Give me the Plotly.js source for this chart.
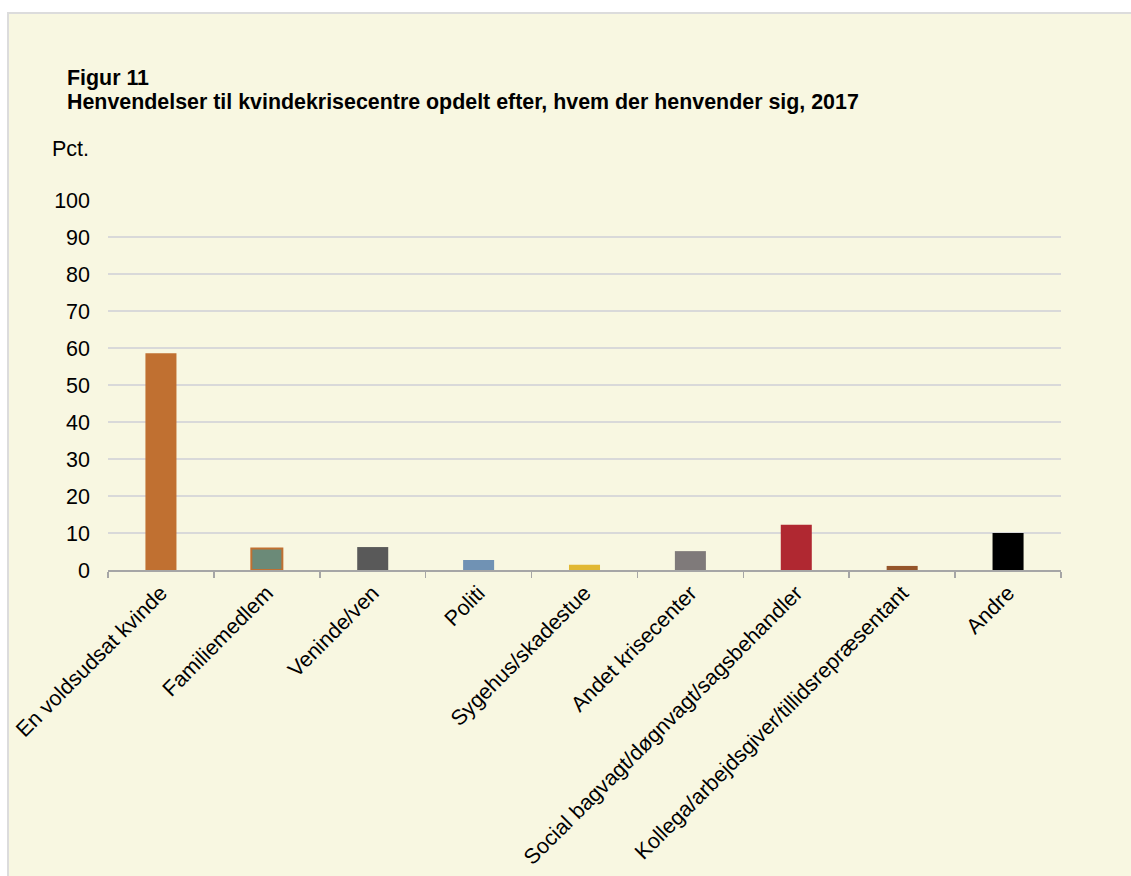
<!DOCTYPE html>
<html>
<head>
<meta charset="utf-8">
<script src="https://cdn.plot.ly/plotly-3.0.1.min.js"></script>
<style>
  html, body { margin:0; padding:0; background:#ffffff; }
  #panel { position:absolute; left:7px; top:12px; width:1124px; height:864px; background:#f8f7e1; border-top:2px solid #dcdcdc; border-left:2px solid #dcdcdc; }
  #chart { position:absolute; left:0; top:0; width:1131px; height:876px; }
</style>
</head>
<body>
<div id="panel"></div>
<div id="chart"></div>
<script>
const categories = [
  "En voldsudsat kvinde",
  "Familiemedlem",
  "Veninde/ven",
  "Politi",
  "Sygehus/skadestue",
  "Andet krisecenter",
  "Social bagvagt/døgnvagt/sagsbehandler",
  "Kollega/arbejdsgiver/tillidsrepræsentant",
  "Andre"
];
const values = [58.6, 5.8, 6.2, 2.7, 1.4, 5.1, 12.2, 1.1, 10.0];
const barColors = ["#c07031", "#6b8a78", "#595959", "#7092b4", "#e1b833", "#7f7a7a", "#b02831", "#95552a", "#000000"];
const outlineColors = ["#c07031", "#c07031", "#595959", "#7092b4", "#e1b833", "#7f7a7a", "#b02831", "#95552a", "#000000"];
const outlineWidths = [0, 2, 0, 0, 0, 0, 0, 0, 0];
const yTicks = [0, 10, 20, 30, 40, 50, 60, 70, 80, 90, 100];
const titleLine1 = "Figur 11";
const titleLine2 = "Henvendelser til kvindekrisecentre opdelt efter, hvem der henvender sig, 2017";
const yLabel = "Pct.";

const FONT = "Liberation Sans, Arial, Helvetica, sans-serif";

const trace = {
  type: "bar",
  x: categories,
  y: values,
  marker: { color: barColors, line: { color: outlineColors, width: outlineWidths } },
  hoverinfo: "x+y"
};

const layout = {
  width: 1131, height: 876,
  paper_bgcolor: "rgba(0,0,0,0)",
  plot_bgcolor: "rgba(0,0,0,0)",
  margin: { l: 108, r: 70, t: 200, b: 306, pad: 0 },
  bargap: 0.707,
  showlegend: false,
  font: { family: FONT, size: 21, color: "#000" },
  xaxis: {
    type: "category",
    tickangle: -45,
    tickson: "boundaries",
    ticks: "outside",
    ticklen: 6,
    tickwidth: 1.5,
    tickcolor: "#a6a6a6",
    showline: true,
    linecolor: "#a6a6a6",
    linewidth: 2,
    showgrid: false,
    tickfont: { family: FONT, size: 21.5, color: "#000" },
    automargin: false
  },
  yaxis: {
    range: [0, 100],
    tickvals: yTicks,
    ticktext: yTicks.map(String),
    showline: false,
    ticks: "",
    showgrid: true,
    gridcolor: "#d9d9d9",
    gridwidth: 2,
    zeroline: false,
    tickfont: { family: FONT, size: 21.5, color: "#000" },
    ticklabelstandoff: 17,
    automargin: false
  },
  annotations: [
    { text: "<b>" + titleLine1 + "</b>", xref: "paper", yref: "paper", x: -0.0452, y: 1.330,
      xanchor: "left", yanchor: "middle", showarrow: false, font: { family: FONT, size: 21.4, color: "#000" } },
    { text: "<b>" + titleLine2 + "</b>", xref: "paper", yref: "paper", x: -0.0452, y: 1.266,
      xanchor: "left", yanchor: "middle", showarrow: false, font: { family: FONT, size: 21.4, color: "#000" } },
    { text: yLabel, xref: "paper", yref: "paper", x: -0.0610, y: 1.138,
      xanchor: "left", yanchor: "middle", showarrow: false, font: { family: FONT, size: 21.5, color: "#000" } }
  ]
};

Plotly.newPlot("chart", [trace], layout, { displayModeBar: false, staticPlot: true });
</script>
</body>
</html>
